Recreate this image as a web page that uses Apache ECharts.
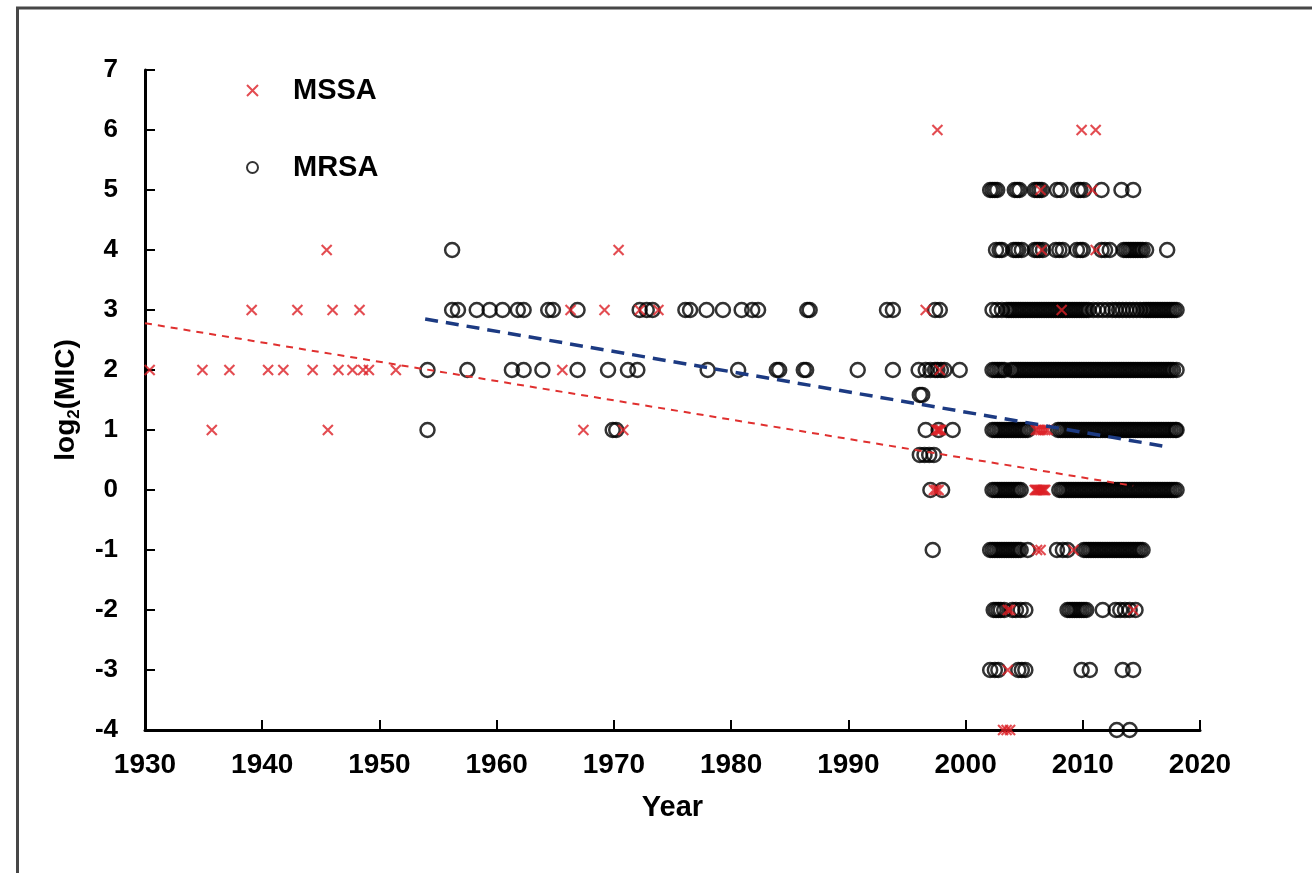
<!DOCTYPE html>
<html>
<head>
<meta charset="utf-8">
<script src="https://cdn.jsdelivr.net/npm/echarts@6/dist/echarts.min.js"></script>
<style>
html, body { margin: 0; padding: 0; background: #fff; }
#chart { width: 1312px; height: 873px; }
</style>
</head>
<body>
<div id="chart"></div>
<script>
// isolation years at each log2(MIC) level
const mssa6 = [1997.6, 2009.9, 2011.1];
const mssa5 = [2006.4, 2010.8];
const mssa4 = [1945.5, 1970.4, 2006.5, 2011.1];
const mssa3 = [1939.1, 1943.0, 1946.0, 1948.3, 1966.3, 1969.2, 1972.2, 1973.8, 1996.6, 2008.2];
const mssa2 = [1930.4, 1934.9, 1937.2, 1940.5, 1941.8, 1944.3, 1946.5, 1947.7, 1948.6, 1949.1, 1951.4, 1965.6, 1997.8];
const mssa1 = [1935.7, 1945.6, 1967.4, 1970.8, 1997.5, 1997.6, 1997.7, 1997.8, 1997.9,
  2006.0, 2006.2, 2006.4, 2006.6, 2006.8, 2007.0];
const mssa0 = [1997.3, 1997.5, 1997.7, 2005.9, 2006.0, 2006.1, 2006.2, 2006.3, 2006.4, 2006.5, 2006.6, 2006.7, 2006.8];
const mssaM1 = [2006.1, 2006.4, 2009.2];
const mssaM2 = [2003.6, 2003.8, 2014.3];
const mssaM3 = [2003.6];
const mssaM4 = [2003.2, 2003.5, 2003.8];

const mrsa5 = [2002.1, 2002.3, 2002.5, 2002.7, 2004.2, 2004.4, 2004.6, 2005.9, 2006.1, 2006.3, 2006.5,
  2007.8, 2008.1, 2009.6, 2009.8, 2010.1, 2011.6, 2013.3, 2014.3];
const mrsa4 = [1956.2, 2002.6, 2002.9, 2003.1, 2004.1, 2004.3, 2004.5, 2004.8, 2005.9, 2006.1, 2006.3, 2006.6,
  2007.7, 2008.0, 2008.3, 2009.5, 2009.8, 2010.0, 2011.6, 2011.9, 2012.3, 2013.5, 2013.7, 2013.9, 2014.1,
  2014.3, 2014.5, 2014.7, 2014.9, 2015.1, 2015.4, 2017.2];
const mrsa3 = [1956.2, 1956.7, 1958.3, 1959.4, 1960.5, 1961.8, 1962.3, 1964.4, 1964.8, 1966.9, 1972.2, 1972.8,
  1973.3, 1976.1, 1976.5, 1977.9, 1979.3, 1980.9, 1981.8, 1982.3, 1986.5, 1986.7, 1993.3, 1993.8, 1997.4, 1997.8,
  2002.3, 2002.7, 2003.1, 2003.5, 2003.7, 2003.9, 2004.1, 2004.3, 2004.5, 2004.7, 2004.9, 2005.1, 2005.3, 2005.5,
  2005.7, 2005.9, 2006.1, 2006.3, 2006.5, 2006.7, 2006.9, 2007.1, 2007.3, 2007.5, 2007.7, 2007.9, 2008.1, 2008.3,
  2008.5, 2008.7, 2008.9, 2009.1, 2009.3, 2009.5, 2009.7, 2009.9, 2010.1, 2010.3, 2010.5, 2010.9, 2011.3, 2011.7,
  2012.1, 2012.5, 2012.8, 2013.1, 2013.4, 2013.7, 2014.0, 2014.3, 2014.6, 2014.9, 2015.2, 2015.4, 2015.6, 2015.8,
  2016.0, 2016.2, 2016.4, 2016.6, 2016.8, 2017.0, 2017.2, 2017.4, 2017.6, 2017.8, 2018.0];
const mrsa2 = [1954.1, 1957.5, 1961.3, 1962.3, 1963.9, 1966.9, 1969.5, 1971.2, 1972.0, 1978.0, 1980.6, 1983.9,
  1984.1, 1986.2, 1986.4, 1990.8, 1993.8, 1996.0, 1996.6, 1997.0, 1997.4, 1997.6, 1997.9, 1998.2, 1999.5,
  2002.3, 2002.5, 2002.7, 2002.9, 2003.1, 2003.3, 2003.9, 2004.1, 2004.3, 2004.5, 2004.7, 2004.9, 2005.1, 2005.3,
  2005.5, 2005.7, 2005.9, 2006.1, 2006.3, 2006.5, 2006.7, 2006.9, 2007.1, 2007.3, 2007.5, 2007.7, 2007.9, 2008.1,
  2008.3, 2008.5, 2008.7, 2008.9, 2009.1, 2009.3, 2009.5, 2009.7, 2009.9, 2010.1, 2010.3, 2010.5, 2010.7, 2010.9,
  2011.1, 2011.3, 2011.5, 2011.7, 2011.9, 2012.1, 2012.3, 2012.5, 2012.7, 2012.9, 2013.1, 2013.3, 2013.5, 2013.7,
  2013.9, 2014.1, 2014.3, 2014.5, 2014.7, 2014.9, 2015.1, 2015.3, 2015.5, 2015.7, 2015.9, 2016.1, 2016.3, 2016.5,
  2016.7, 2016.9, 2017.1, 2017.3, 2017.5, 2017.7, 2018.0];
const mrsa1585 = [1996.1, 1996.3];
const mrsa1 = [1954.1, 1969.9, 1970.2, 1996.6, 1997.7, 1998.9,
  2002.3, 2002.5, 2002.7, 2002.9, 2003.1, 2003.3, 2003.5, 2003.7, 2003.9, 2004.1, 2004.3, 2004.5, 2004.7, 2004.9,
  2005.1, 2005.3, 2007.9, 2008.1, 2008.3, 2008.5, 2008.7, 2008.9, 2009.1, 2009.3, 2009.5, 2009.7, 2009.9, 2010.1,
  2010.3, 2010.5, 2010.7, 2010.9, 2011.1, 2011.3, 2011.5, 2011.7, 2011.9, 2012.1, 2012.3, 2012.5, 2012.7, 2012.9,
  2013.1, 2013.3, 2013.5, 2013.7, 2013.9, 2014.1, 2014.3, 2014.5, 2014.7, 2014.9, 2015.1, 2015.3, 2015.5, 2015.7,
  2015.9, 2016.1, 2016.3, 2016.5, 2016.7, 2016.9, 2017.1, 2017.3, 2017.5, 2017.7, 2017.9, 2018.0];
const mrsa0585 = [1996.1, 1996.5, 1996.9, 1997.3];
const mrsa0 = [1997.0, 1998.0,
  2002.3, 2002.5, 2002.7, 2002.9, 2003.1, 2003.3, 2003.5, 2003.7, 2003.9, 2004.1, 2004.3, 2004.5, 2004.7,
  2008.0, 2008.2, 2008.4, 2008.6, 2008.8, 2009.0, 2009.2, 2009.4, 2009.6, 2009.8, 2010.0, 2010.2, 2010.4, 2010.6,
  2010.8, 2011.0, 2011.2, 2011.4, 2011.6, 2011.8, 2012.0, 2012.2, 2012.4, 2012.6, 2012.8, 2013.0, 2013.2, 2013.4,
  2013.6, 2013.8, 2014.0, 2014.2, 2014.4, 2014.6, 2014.8, 2015.0, 2015.2, 2015.4, 2015.6, 2015.8, 2016.0, 2016.2,
  2016.4, 2016.6, 2016.8, 2017.0, 2017.2, 2017.4, 2017.6, 2017.8, 2018.0];
const mrsaM1 = [1997.2,
  2002.1, 2002.3, 2002.5, 2002.7, 2002.9, 2003.1, 2003.3, 2003.5, 2003.7, 2003.9, 2004.1, 2004.3, 2004.5, 2004.7,
  2005.3, 2007.8, 2008.3, 2008.7,
  2010.1, 2010.3, 2010.5, 2010.7, 2010.9, 2011.1, 2011.3, 2011.5, 2011.7, 2011.9, 2012.1, 2012.3, 2012.5, 2012.7,
  2012.9, 2013.1, 2013.3, 2013.5, 2013.7, 2013.9, 2014.1, 2014.3, 2014.5, 2014.7, 2014.9, 2015.1];
const mrsaM2 = [2002.4, 2002.6, 2002.8, 2003.0, 2003.3, 2004.0, 2004.3, 2004.7, 2005.1, 2008.7, 2008.9, 2009.1,
  2009.3, 2009.5, 2009.7, 2009.9, 2010.1, 2010.3, 2011.7, 2012.8, 2013.2, 2013.6, 2014.0, 2014.5];
const mrsaM3 = [2002.1, 2002.5, 2002.8, 2004.5, 2004.8, 2005.1, 2009.9, 2010.6, 2013.4, 2014.3];
const mrsaM4 = [2012.9, 2014.0];

// fitted trend lines (start, end)
const mssaTrend = [[1930, 2.78], [2014.3, 0.07]];
const mrsaTrend = [[1953.9, 2.85], [2017.2, 0.72]];

function at(level, years) {
  return years.map(function (y) { return [y, level]; });
}

const mssaData = [].concat(
  at(6, mssa6), at(5, mssa5), at(4, mssa4), at(3, mssa3), at(2, mssa2), at(1, mssa1),
  at(0, mssa0), at(-1, mssaM1), at(-2, mssaM2), at(-3, mssaM3), at(-4, mssaM4)
);
const mrsaData = [].concat(
  at(5, mrsa5), at(4, mrsa4), at(3, mrsa3), at(2, mrsa2), at(1.585, mrsa1585), at(1, mrsa1),
  at(0.585, mrsa0585), at(0, mrsa0), at(-1, mrsaM1), at(-2, mrsaM2), at(-3, mrsaM3), at(-4, mrsaM4)
);

const FONT = 'Liberation Sans, Arial, sans-serif';
const chart = echarts.init(document.getElementById('chart'));

chart.setOption({
  animation: false,
  backgroundColor: '#fff',
  graphic: [{
    type: 'rect',
    silent: true,
    shape: { x: 17.5, y: 8, width: 1400, height: 900 },
    style: { fill: 'none', stroke: '#474747', lineWidth: 3 }
  }],
  grid: { left: 145, right: 112, top: 70, bottom: 143 },
  legend: {
    data: ['MSSA', 'MRSA'],
    orient: 'vertical',
    left: 246,
    top: 76,
    padding: 0,
    itemWidth: 11,
    itemHeight: 11,
    itemGap: 48,
    selectedMode: false,
    textStyle: { fontFamily: FONT, fontSize: 29, fontWeight: 'bold', color: '#000', padding: [0, 0, 0, 30] }
  },
  xAxis: {
    type: 'value',
    min: 1930,
    max: 2020,
    interval: 10,
    name: 'Year',
    nameLocation: 'middle',
    nameGap: 63,
    nameTextStyle: { fontFamily: FONT, fontSize: 29, fontWeight: 'bold', color: '#000' },
    axisLine: { onZero: false, lineStyle: { color: '#000', width: 3 } },
    axisTick: { inside: true, length: 10, lineStyle: { color: '#000', width: 2 } },
    splitLine: { show: false },
    axisLabel: {
      fontFamily: FONT, fontSize: 28, fontWeight: 'bold', color: '#000', margin: 21,
      formatter: function (v) { return String(v); }
    }
  },
  yAxis: {
    type: 'value',
    min: -4,
    max: 7,
    interval: 1,
    name: '{m|log}{s|2}{m|(MIC)}',
    nameLocation: 'middle',
    nameGap: 62,
    nameTextStyle: {
      rich: {
        m: { fontFamily: FONT, fontSize: 28, fontWeight: 'bold', color: '#000', lineHeight: 34, verticalAlign: 'middle' },
        s: { fontFamily: FONT, fontSize: 17, fontWeight: 'bold', color: '#000', lineHeight: 34, verticalAlign: 'bottom' }
      }
    },
    axisLine: { show: true, onZero: false, lineStyle: { color: '#000', width: 3 } },
    axisTick: { show: true, inside: true, length: 10, lineStyle: { color: '#000', width: 2 } },
    splitLine: { show: false },
    axisLabel: { fontFamily: FONT, fontSize: 26, fontWeight: 'bold', color: '#000', margin: 27 }
  },
  series: [
    {
      name: 'MRSA',
      type: 'scatter',
      symbol: 'circle',
      symbolSize: 14,
      data: mrsaData,
      itemStyle: { color: 'rgba(0,0,0,0)', borderColor: '#000', borderWidth: 2.5 },
      emphasis: { disabled: true },
      z: 2
    },
    {
      name: 'MSSA',
      type: 'scatter',
      symbol: 'path://M0,0L10,10M10,0L0,10',
      symbolSize: 10,
      data: mssaData,
      itemStyle: { color: '#dc1f26', borderColor: '#dc1f26', borderWidth: 2.1 },
      emphasis: { disabled: true },
      z: 3
    },
    {
      name: 'MSSA trend',
      type: 'line',
      data: mssaTrend,
      showSymbol: false,
      silent: true,
      lineStyle: { color: '#e0302f', width: 2, type: [7, 6] },
      z: 4
    },
    {
      name: 'MRSA trend',
      type: 'line',
      data: mrsaTrend,
      showSymbol: false,
      silent: true,
      lineStyle: { color: '#1c3a82', width: 3.5, type: [13, 8] },
      z: 4
    }
  ]
});
</script>
</body>
</html>
